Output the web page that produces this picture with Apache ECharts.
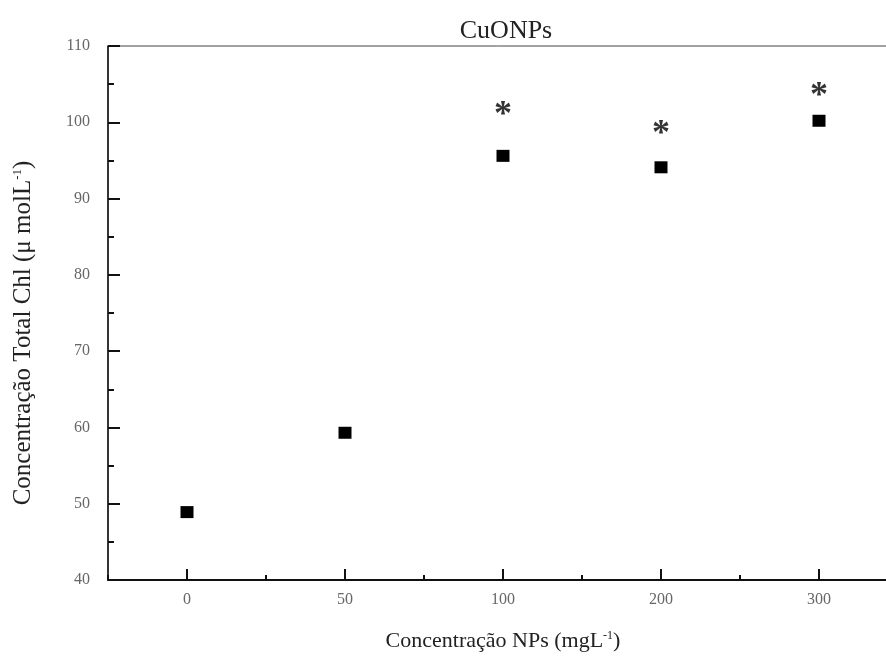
<!DOCTYPE html>
<html lang="pt">
<head>
    <meta charset="UTF-8">
    <title>CuONPs</title>
    <script src="https://cdn.jsdelivr.net/npm/echarts@6/dist/echarts.min.js"></script>
    <style>
        html, body { margin: 0; padding: 0; background: #fff; }
        #chart { width: 886px; height: 657px; }
    </style>
</head>
<body>
<div id="chart"></div>
<script>
    // dados
    var categorias = ['0', '50', '100', '200', '300'];
    var valores = [48.9, 59.3, 95.6, 94.1, 100.2];
    // posição dos asteriscos (significância)
    var asteriscos = [null, null, 101.9, 99.4, 104.4];
    var yTicks = [40, 50, 60, 70, 80, 90, 100, 110];

    var fonte = "'Liberation Serif', 'DejaVu Serif', serif";
    var chart = echarts.init(document.getElementById('chart'));

    chart.setOption({
        backgroundColor: '#fff',
        animation: false,
        title: {
            text: 'CuONPs',
            left: 501,
            textAlign: 'center',
            top: 13,
            textStyle: { fontFamily: fonte, fontSize: 26, fontWeight: 'normal', color: '#222' }
        },
        grid: {
            left: 108, top: 46, width: 790, height: 534,
            outerBoundsMode: 'none',
            show: true, borderColor: '#444', borderWidth: 1
        },
        xAxis: [{
            type: 'category',
            data: categorias,
            name: 'Concentração NPs (mgL{sup|-1})',
            nameLocation: 'middle',
            nameGap: 50,
            nameTextStyle: {
                fontFamily: fonte, fontSize: 22, color: '#222',
                rich: { sup: { fontSize: 12, verticalAlign: 'top', padding: [0, 0, 11, 0], fontFamily: fonte, color: '#222' } }
            },
            axisLine: { lineStyle: { color: '#111', width: 2 } },
            axisTick: { show: true, alignWithLabel: true, inside: true, length: 11, lineStyle: { color: '#111', width: 2 } },
            axisLabel: { fontFamily: fonte, fontSize: 16, color: '#666', margin: 12 },
            splitLine: { show: false }
        }, {
            type: 'category',
            data: categorias,
            position: 'bottom',
            axisLine: { show: false },
            axisTick: { show: true, alignWithLabel: false, inside: true, length: 5, lineStyle: { color: '#111', width: 2 } },
            axisLabel: { show: false },
            splitLine: { show: false }
        }],
        yAxis: {
            type: 'value',
            min: 40, max: 110, interval: 10,
            name: 'Concentração Total Chl (μ molL{sup|-1})',
            nameLocation: 'middle',
            nameGap: 72,
            nameTextStyle: {
                fontFamily: fonte, fontSize: 25, color: '#222', padding: [0, 40, 0, 0],
                rich: { sup: { fontSize: 13, verticalAlign: 'top', padding: [0, 0, 12, 0], fontFamily: fonte, color: '#222' } }
            },
            axisLine: { show: true, lineStyle: { color: '#111', width: 1.5 } },
            axisTick: { show: true, inside: true, length: 12, lineStyle: { color: '#111', width: 2 } },
            minorTick: { show: true, splitNumber: 2, length: 6, lineStyle: { color: '#111', width: 2 } },
            axisLabel: {
                fontFamily: fonte, fontSize: 16, color: '#666', margin: 18,
                formatter: function (v) { return yTicks.indexOf(v) >= 0 ? String(v) : ''; }
            },
            splitLine: { show: false }
        },
        series: [{
            type: 'scatter',
            data: valores,
            symbol: 'rect',
            symbolSize: [13, 12],
            itemStyle: { color: '#000', opacity: 1 }
        }, {
            type: 'scatter',
            data: asteriscos,
            symbolSize: 1,
            itemStyle: { color: 'rgba(0,0,0,0)' },
            label: {
                show: true,
                position: 'inside',
                formatter: '*',
                fontFamily: fonte,
                fontSize: 36,
                fontWeight: 'bold',
                color: '#000',
                offset: [0, 8]
            }
        }]
    });
</script>
</body>
</html>
